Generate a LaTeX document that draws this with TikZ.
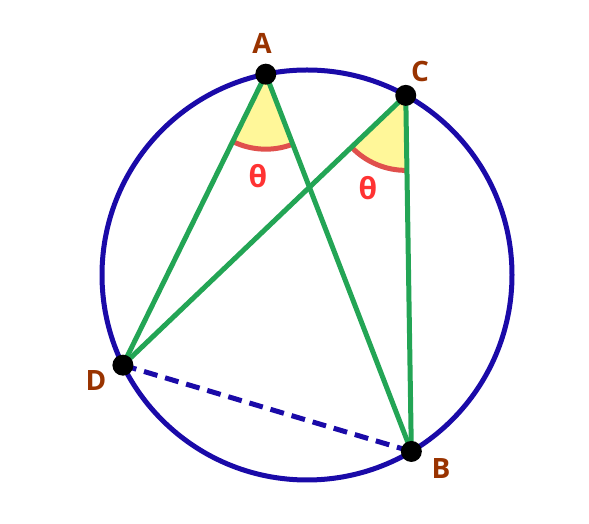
\documentclass[tikz,border=0pt]{standalone}
\usepackage{fontspec}
\setmainfont{Open Sans}
\usetikzlibrary{angles}
\definecolor{ringblue}{HTML}{1A0AA8}
\definecolor{chordgreen}{HTML}{23A555}
\definecolor{wedgeyellow}{HTML}{FFF799}
\definecolor{arcred}{HTML}{E0504C}
\definecolor{thetared}{HTML}{FF3333}
\definecolor{labelbrown}{HTML}{993300}
\tikzset{
  pt/.style={circle,fill=black,inner sep=0pt,minimum size=21pt},
  lbl/.style={text=labelbrown,font=\bfseries\fontsize{28}{28}\selectfont},
  thetalbl/.style={text=thetared,font=\bfseries\fontsize{30}{30}\selectfont},
  chord/.style={chordgreen,line width=5pt},
  wedge/.style={draw=arcred,line width=5pt,fill=wedgeyellow,angle radius=75pt},
}
\begin{document}
\begin{tikzpicture}[x=1pt,y=1pt]
        \useasboundingbox (0,0) rectangle (589,524);
        \coordinate (O) at (307,249);
        \draw[ringblue,line width=5pt] (O) circle (205);
        \coordinate (A) at ([shift={(101.6:205)}]O);
        \coordinate (C) at ([shift={(61.2:205)}]O);
        \coordinate (D) at ([shift={(206.1:205)}]O);
        \coordinate (B) at ([shift={(300.6:205)}]O);
        \pic[wedge] {angle = D--A--B};
        \pic[wedge] {angle = D--C--B};
        \draw[ringblue,line width=5pt,dash pattern=on 14pt off 8pt] (D) -- (B);
        \draw[chord] (A) -- (D);
        \draw[chord] (A) -- (B);
        \draw[chord] (C) -- (D);
        \draw[chord] (C) -- (B);
        \node[pt] (a) at (A) {};
        \node[pt] (c) at (C) {};
        \node[pt] (d) at (D) {};
        \node[pt] (b) at (B) {};
        \node[lbl] (la) at (262,481) {A};
        \node[lbl] (lc) at (420,452) {C};
        \node[lbl] (ld) at (96,143) {D};
        \node[lbl] (lb) at (441,55) {B};
        \node[thetalbl] (ta) at (258,348) {θ};
        \node[thetalbl] (tc) at (368,336) {θ};
\end{tikzpicture}
\end{document}
